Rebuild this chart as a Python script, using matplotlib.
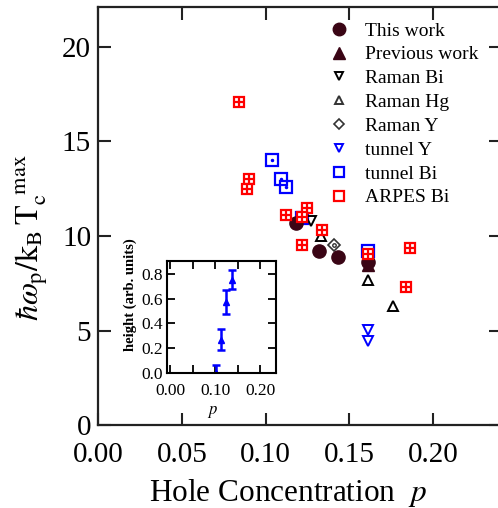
import numpy as np
import matplotlib.pyplot as plt
from matplotlib.lines import Line2D

plt.rcParams['font.family'] = ['Liberation Serif', 'DejaVu Serif']
plt.rcParams['mathtext.fontset'] = 'stix'

# main panel data (p, hbar*omega_p / kB Tc max)
this_p = [0.118, 0.132, 0.143, 0.161]
this_y = [10.7, 9.2, 8.9, 8.65]
prev_p = [0.161]
prev_y = [8.45]
ramanbi_p = [0.127]
ramanbi_y = [10.8]
ramanhg_p = [0.133, 0.161, 0.176]
ramanhg_y = [10.0, 7.7, 6.3]
ramany_p = [0.141]
ramany_y = [9.5]
tunnely_p = [0.161, 0.161]
tunnely_y = [5.05, 4.45]
tunnelbi_p = [0.104, 0.109, 0.112, 0.122, 0.161]
tunnelbi_y = [14.0, 13.0, 12.6, 10.95, 9.2]
arpes_p = [0.084, 0.090, 0.089, 0.112, 0.125, 0.122, 0.134, 0.122, 0.161, 0.186, 0.184]
arpes_y = [17.1, 13.0, 12.5, 11.1, 11.5, 11.0, 10.3, 9.55, 9.05, 9.35, 7.3]

# inset data
ins_p = [0.102, 0.113, 0.124, 0.137]
ins_h = [0.0, 0.27, 0.575, 0.755]
ins_err = [0.065, 0.085, 0.10, 0.075]

dark = '#3a0515'

fig = plt.figure(figsize=(4.98, 5.08), dpi=100)
ax = fig.add_axes([0.197, 0.163, 0.81, 0.823])

ax.plot(arpes_p, arpes_y, 's', ms=7.5, mfc='white', mec='red', mew=1.6, ls='none', zorder=3)
ax.plot(arpes_p, arpes_y, '+', ms=7.5, mec='red', mew=1.6, ls='none', zorder=3)
ax.plot(tunnelbi_p, tunnelbi_y, 's', ms=8.5, mfc='none', mec='blue', mew=1.6, ls='none', zorder=2)
ax.plot(tunnelbi_p, tunnelbi_y, '.', ms=3, color='blue', ls='none', zorder=2)
ax.plot(tunnely_p, tunnely_y, 'v', ms=7, mfc='none', mec='blue', mew=1.4, ls='none', zorder=2)
ax.plot(ramany_p, ramany_y, 'D', ms=6, mfc='none', mec='#333333', mew=1.2, ls='none', zorder=2)
ax.plot(ramany_p, ramany_y, 'o', ms=2.5, mfc='none', mec='#333333', mew=1.0, ls='none', zorder=2)
ax.plot(ramanhg_p, ramanhg_y, '^', ms=7, mfc='none', mec='black', mew=1.4, ls='none', zorder=2)
ax.plot(ramanbi_p, ramanbi_y, 'v', ms=7, mfc='none', mec='black', mew=1.4, ls='none', zorder=2)
ax.plot(this_p, this_y, 'o', ms=9.5, color=dark, ls='none', zorder=2)
ax.plot(prev_p, prev_y, '^', ms=9, color=dark, ls='none', zorder=2)

ax.set_xlim(0, 0.2409)
ax.set_ylim(0, 22.1)
ax.set_xticks([0.00, 0.05, 0.10, 0.15, 0.20])
ax.set_xticklabels(['0.00', '0.05', '0.10', '0.15', '0.20'])
ax.set_yticks([0, 5, 10, 15, 20])
ax.tick_params(direction='in', length=9, width=1.5, top=True, right=True,
               labelsize=21, pad=5, color='#222222')
ax.tick_params(axis='x', pad=12)
for s in ax.spines.values():
    s.set_linewidth(1.6)
    s.set_color('#222222')
ax.set_xlabel(r'Hole Concentration  $\it{p}$', fontsize=22.5, labelpad=5)
ax.xaxis.set_label_coords(0.47, -0.125)
ax.set_ylabel(r'$\hbar\omega_\mathrm{p}/\mathrm{k}_\mathrm{B}\,\mathrm{T}_\mathrm{c}^{\ \ \mathrm{max}}$',
              fontsize=23)
ax.yaxis.set_label_coords(-0.12, 0.45)

handles = [
    Line2D([], [], ls='none', marker='o', ms=9, color=dark),
    Line2D([], [], ls='none', marker='^', ms=8, color=dark),
    Line2D([], [], ls='none', marker='v', ms=6, mfc='none', mec='black', mew=1.4),
    Line2D([], [], ls='none', marker='^', ms=6, mfc='none', mec='#333333', mew=1.4),
    Line2D([], [], ls='none', marker='D', ms=5, mfc='none', mec='#333333', mew=1.2),
    Line2D([], [], ls='none', marker='v', ms=6, mfc='none', mec='blue', mew=1.4),
    Line2D([], [], ls='none', marker='s', ms=7, mfc='none', mec='blue', mew=1.6),
    Line2D([], [], ls='none', marker='s', ms=7, mfc='white', mec='red', mew=1.6),
]
labels = ['This work', 'Previous work', 'Raman Bi', 'Raman Hg', 'Raman Y',
          'tunnel Y', 'tunnel Bi', 'ARPES Bi']
ax.legend(handles, labels, loc='upper left', bbox_to_anchor=(0.54, 0.997),
          frameon=False, fontsize=14, labelspacing=0.32, handlelength=1.0,
          handletextpad=0.8, borderpad=0.2)

ins = fig.add_axes([0.335, 0.266, 0.219, 0.220])
ins.errorbar(ins_p, ins_h, yerr=ins_err, fmt='^', ms=5, color='blue',
             ecolor='blue', elinewidth=1.8, capsize=3, capthick=1.8)
ins.set_xlim(-0.007, 0.235)
ins.set_ylim(0, 0.905)
ins.set_xticks([0.0, 0.1, 0.2])
ins.set_xticklabels(['0.00', '0.10', '0.20'])
ins.set_xticks([0.05, 0.15], minor=True)
ins.set_yticks([0.0, 0.2, 0.4, 0.6, 0.8])
ins.tick_params(which='both', direction='in', length=6, width=1.3, top=True,
                right=True, labelsize=12.5, pad=3)
ins.tick_params(axis='x', which='major', pad=7)
for s in ins.spines.values():
    s.set_linewidth(1.5)
ins.set_xlabel(r'$\it{p}$', fontsize=12)
ins.xaxis.set_label_coords(0.42, -0.28)
ins.set_ylabel('height (arb. units)', fontsize=10.5, fontweight='bold')
ins.yaxis.set_label_coords(-0.27, 0.7)

fig.savefig('out.png', dpi=100)
